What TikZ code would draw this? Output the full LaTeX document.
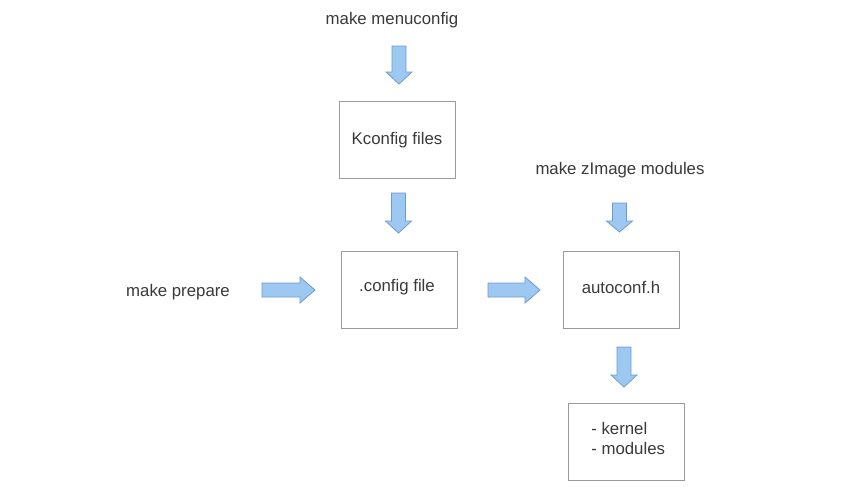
\documentclass[tikz,border=0pt]{standalone}
\usepackage{fontspec}
\setmainfont{Liberation Sans}
\definecolor{boxline}{HTML}{9A9A9A}
\definecolor{txt}{HTML}{3A3A3A}
\definecolor{arrfill}{HTML}{9CC8F2}
\definecolor{arrline}{HTML}{6E9BCF}
\tikzset{
  box/.style={draw=boxline, line width=0.7pt, minimum width=87pt, minimum height=57.75pt, inner sep=0pt, text=txt, font=\fontsize{12.6}{15}\selectfont},
  lbl/.style={text=txt, font=\fontsize{12.6}{15}\selectfont, inner sep=0pt},
  blockarrow/.style={fill=arrfill, draw=arrline, line width=0.6pt, line join=miter}
}
\newcommand\barr[5]{\draw[blockarrow, shift={(#1,#2)}, rotate=#3] (0,-7) -- (#4-#5,-7) -- (#4-#5,-13) -- (#4,0) -- (#4-#5,13) -- (#4-#5,7) -- (0,7) -- cycle;}
\begin{document}
\begin{tikzpicture}[x=0.75pt,y=-0.75pt]
\useasboundingbox[fill=white] (0,0) rectangle (850,500);
% boxes
\node[box] (kconf) at (397,140) {Kconfig files};
\node[box] (cfg) at (399,289.5) {};
\node[lbl] (cfgt) at (397,287) {.config file};
\node[box] (auto) at (621,289.5) {};
\node[lbl] (autot) at (621,287) {autoconf.h};
\node[box] (out) at (626,442) {};
\node[lbl, align=left, anchor=west, font=\fontsize{12.6}{15}\selectfont] (outt) at (591,438) {- kernel\\- modules};
% labels
\node[lbl] (menu) at (392,20) {make menuconfig};
\node[lbl] (zimg) at (620,170) {make zImage modules};
\node[lbl] (prep) at (178,292) {make prepare};
% block arrows
\barr{399}{46}{-90}{38}{12}
\barr{398.5}{193}{-90}{40}{12}
\barr{262}{290}{0}{53}{15}
\barr{488}{290}{0}{52}{15}
\barr{619.5}{203}{-90}{29}{11}
\barr{624}{347}{-90}{40}{12}
\end{tikzpicture}
\end{document}
